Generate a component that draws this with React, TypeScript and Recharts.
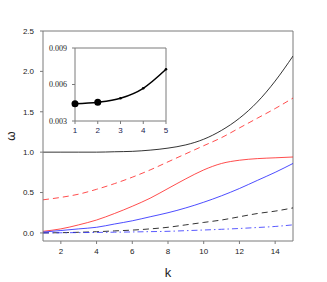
import React from 'react';
import { LineChart, Line, XAxis, YAxis, Label, ReferenceLine } from 'recharts';

const kValues = [1, 2, 3, 4, 5, 6, 7, 8, 9, 10, 11, 12, 13, 14, 15];
const blackSolid = [1.0, 1.0, 1.0, 1.0, 1.005, 1.01, 1.025, 1.05, 1.09, 1.16, 1.27, 1.42, 1.62, 1.88, 2.19];
const redDashed = [0.41, 0.44, 0.48, 0.54, 0.61, 0.69, 0.78, 0.88, 0.98, 1.08, 1.18, 1.3, 1.42, 1.54, 1.67];
const redSolid = [0.02, 0.05, 0.1, 0.16, 0.24, 0.33, 0.43, 0.55, 0.67, 0.78, 0.86, 0.9, 0.92, 0.93, 0.94];
const blueSolid = [0.01, 0.03, 0.05, 0.07, 0.11, 0.15, 0.2, 0.25, 0.31, 0.38, 0.46, 0.55, 0.65, 0.75, 0.86];
const blackDashed = [0, 0.003, 0.008, 0.015, 0.025, 0.035, 0.05, 0.07, 0.1, 0.13, 0.16, 0.2, 0.24, 0.27, 0.31];
const blueDashDot = [0, 0.002, 0.004, 0.006, 0.009, 0.012, 0.016, 0.02, 0.028, 0.036, 0.045, 0.055, 0.067, 0.08, 0.1];

const xTicks = [2, 4, 6, 8, 10, 12, 14];
const yTicks = [0, 0.5, 1.0, 1.5, 2.0, 2.5];

const insetK = [1, 2, 3, 4, 5];
const insetValues = [0.00442, 0.00454, 0.00487, 0.00569, 0.00725];
const insetYTicks = [0.003, 0.006, 0.009];
const insetXTicks = [1, 2, 3, 4, 5];

const mainData = kValues.map((k, i) => ({
  k,
  bs: blackSolid[i],
  rd: redDashed[i],
  rs: redSolid[i],
  bl: blueSolid[i],
  bd: blackDashed[i],
  bdd: blueDashDot[i],
}));

const insetData = insetK.map((k, i) => ({ k, v: insetValues[i] }));

const FONT = 'Liberation Sans, Arial, sans-serif';
const SERIF = 'Liberation Serif, Times New Roman, serif';
const AX = '#7a7a7a';
const tickStyle = { fontSize: 8, fill: '#222', fontFamily: FONT };
const axisLine = { stroke: AX, strokeWidth: 1 };

const InsetDot = (props: any) => {
  const { cx, cy, index } = props;
  const r = index < 2 ? 3.5 : 1.3;
  return <circle key={index} cx={cx} cy={cy} r={r} fill="#000" stroke="none" />;
};

export default function App() {
  return (
    <div style={{ position: 'absolute', left: 0, top: 0, width: 327, height: 282, background: '#fff' }}>
      <div style={{ position: 'absolute', left: 0, top: 0 }}>
        <LineChart width={327} height={282} data={mainData} margin={{ top: 31, right: 34, bottom: 1, left: 0 }}>
          <XAxis
            dataKey="k"
            type="number"
            domain={[1, 15]}
            ticks={xTicks}
            allowDataOverflow
            height={40}
            axisLine={axisLine}
            tickSize={3}
            tickMargin={4}
            tick={tickStyle}
            tickLine={{ stroke: AX }}
          >
            <Label value="k" position="insideBottom" offset={4} style={{ fontSize: 13, fill: '#222', fontFamily: FONT }} />
          </XAxis>
          <YAxis
            type="number"
            domain={[-0.1, 2.5]}
            ticks={yTicks}
            allowDataOverflow
            width={43}
            axisLine={axisLine}
            tickSize={3}
            tickMargin={6}
            tick={tickStyle}
            tickLine={{ stroke: AX }}
            tickFormatter={(v: number) => v.toFixed(1)}
          >
            <Label
              content={() => (
                <text x={11} y={136} transform="rotate(-90 11 136)" textAnchor="middle" dominantBaseline="central" style={{ fontSize: 12, fill: '#222', fontFamily: FONT }}>
                  ω
                </text>
              )}
            />
          </YAxis>
          <ReferenceLine y={2.5} stroke={AX} strokeWidth={1} ifOverflow="extendDomain" />
          <ReferenceLine x={15} stroke={AX} strokeWidth={1} ifOverflow="extendDomain" />
          <Line dataKey="bs" stroke="#000" strokeWidth={0.8} dot={false} type="monotone" isAnimationActive={false} />
          <Line dataKey="rd" stroke="#ff2020" strokeWidth={0.8} strokeDasharray="6 4" dot={false} type="monotone" isAnimationActive={false} />
          <Line dataKey="rs" stroke="#ff2020" strokeWidth={0.8} dot={false} type="monotone" isAnimationActive={false} />
          <Line dataKey="bl" stroke="#2020ff" strokeWidth={0.8} dot={false} type="monotone" isAnimationActive={false} />
          <Line dataKey="bd" stroke="#000" strokeWidth={0.8} strokeDasharray="6 4" dot={false} type="monotone" isAnimationActive={false} />
          <Line dataKey="bdd" stroke="#3030ff" strokeWidth={0.8} strokeDasharray="6 3 1.5 3" dot={false} type="monotone" isAnimationActive={false} />
        </LineChart>
      </div>
      <div style={{ position: 'absolute', left: 0, top: 0 }}>
        <LineChart width={175} height={140} data={insetData} margin={{ top: 48, right: 9, bottom: 4, left: 0 }}>
          <XAxis
            dataKey="k"
            type="number"
            domain={[1, 5]}
            ticks={insetXTicks}
            height={15}
            axisLine={axisLine}
            tickSize={3}
            tickMargin={3}
            tick={{ ...tickStyle, fill: '#1a1a50' }}
            tickLine={{ stroke: AX }}
          />
          <YAxis
            type="number"
            domain={[0.003, 0.009]}
            ticks={insetYTicks}
            allowDataOverflow
            width={75}
            axisLine={axisLine}
            tickSize={3}
            tickMargin={5}
            tick={{ ...tickStyle, fontFamily: SERIF }}
            tickLine={{ stroke: AX }}
            tickFormatter={(v: number) => v.toFixed(3)}
          />
          <ReferenceLine y={0.009} stroke={AX} strokeWidth={1} ifOverflow="extendDomain" />
          <ReferenceLine x={5} stroke={AX} strokeWidth={1} ifOverflow="extendDomain" />
          <Line dataKey="v" stroke="#000" strokeWidth={1.5} type="monotone" dot={<InsetDot />} isAnimationActive={false} />
        </LineChart>
      </div>
    </div>
  );
}
